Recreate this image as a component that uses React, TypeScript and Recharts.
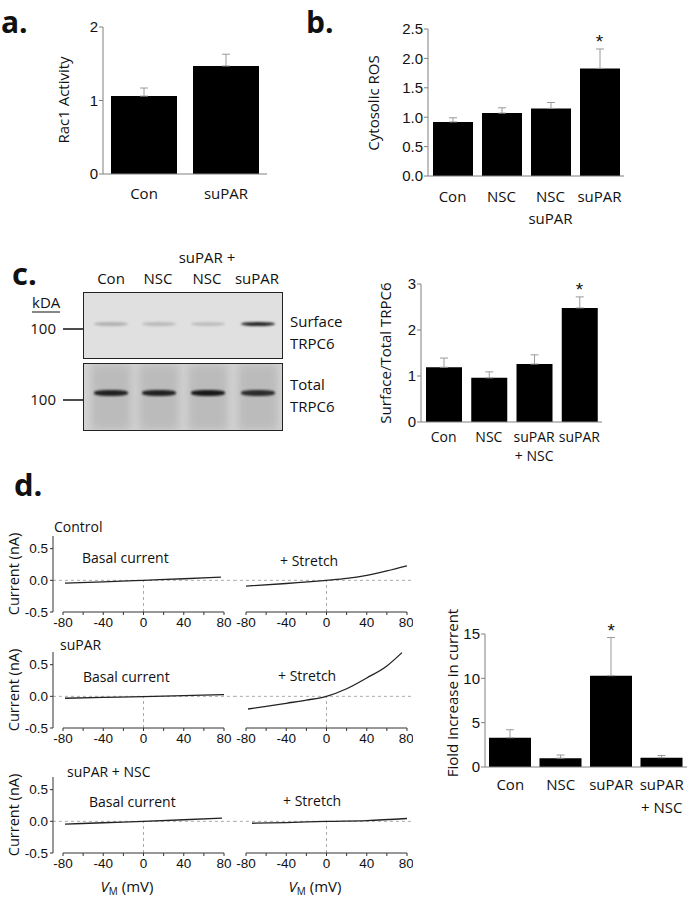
import React from 'react';
import {
  ComposedChart,
  LineChart,
  Bar,
  ErrorBar,
  Line,
  XAxis,
  YAxis,
  ReferenceLine,
} from 'recharts';

const FONT = '"Open Sans", sans-serif';
const NUM = '"Liberation Sans", Arial, sans-serif';

// a. Rac1 activity
const racCats = ['Con', 'suPAR'];
const racMean = [1.06, 1.47];
const racSem = [0.11, 0.16];
const racSig = [false, false];

// b. cytosolic ROS
const rosCats = ['Con', 'NSC', 'NSC\nsuPAR', 'suPAR'];
const rosMean = [0.92, 1.07, 1.15, 1.83];
const rosSem = [0.07, 0.09, 0.1, 0.33];
const rosSig = [false, false, false, true];

// c. surface / total TRPC6
const trpcCats = ['Con', 'NSC', 'suPAR\n+ NSC', 'suPAR'];
const trpcMean = [1.19, 0.96, 1.26, 2.48];
const trpcSem = [0.2, 0.13, 0.2, 0.24];
const trpcSig = [false, false, false, true];

// c. blot band strength per lane
const blotLabels = ['Con', 'NSC', 'suPAR +\nNSC', 'suPAR'];
const surfaceBand = [0.22, 0.18, 0.16, 0.9];
const totalBand = [0.88, 0.88, 0.92, 0.82];

// d. fold increase in current
const foldCats = ['Con', 'NSC', 'suPAR', 'suPAR\n+ NSC'];
const foldMean = [3.3, 1.0, 10.3, 1.05];
const foldSem = [0.9, 0.35, 4.3, 0.25];
const foldSig = [false, false, true, false];

// d. I-V traces (mV, nA)
const ctrlBasalV = [-78, -40, 0, 40, 77];
const ctrlBasalI = [-0.045, -0.025, 0, 0.025, 0.05];
const ctrlStretchV = [-80, -40, 0, 20, 40, 60, 80];
const ctrlStretchI = [-0.09, -0.05, 0, 0.03, 0.08, 0.15, 0.23];
const suparBasalV = [-78, -40, 0, 40, 84];
const suparBasalI = [-0.03, -0.018, -0.005, 0.012, 0.03];
const suparStretchV = [-78, -60, -40, -20, 0, 20, 40, 60, 75];
const suparStretchI = [-0.2, -0.16, -0.11, -0.06, 0, 0.12, 0.29, 0.48, 0.69];
const nscBasalV = [-78, -40, 0, 40, 78];
const nscBasalI = [-0.045, -0.022, 0, 0.025, 0.05];
const nscStretchV = [-74, -40, 0, 40, 80];
const nscStretchI = [-0.03, -0.02, 0, 0.012, 0.045];

const ivXTicks = [-80, -60, -40, -20, 0, 20, 40, 60, 80];
const ivYTicks = [-0.5, 0, 0.5];

const pairs = (v: number[], i: number[]) => v.map((x, k) => ({ v: x, i: i[k] }));

const buildBars = (cats: string[], mean: number[], sem: number[], sig: boolean[]) =>
  cats.map((c, k) => ({
    cat: c,
    val: mean[k],
    err: [0, sem[k]],
    top: mean[k] + sem[k],
    sig: sig[k],
  }));

const CatTick = ({ x, y, payload, dy, lh, fs }: any) => {
  const lines = String(payload.value).split('\n');
  return (
    <text x={x} y={y + dy} textAnchor="middle" fontFamily={FONT} fontSize={fs} fill="#111">
      {lines.map((l, i) => (
        <tspan key={i} x={x} dy={i ? lh : 0}>
          {l}
        </tspan>
      ))}
    </text>
  );
};

const Star = (props: any) => {
  const { cx, cy, payload, index } = props;
  if (!payload?.sig) return <g key={index} />;
  return (
    <text key={index} x={cx} y={cy - 1} textAnchor="middle" fontFamily={NUM} fontSize={19} fill="#111">
      *
    </text>
  );
};

interface BarPanelProps {
  left: number;
  top: number;
  yWidth: number;
  plotW: number;
  plotH: number;
  right: number;
  xh: number;
  data: any[];
  domain: [number, number];
  ticks: number[];
  fmt: (v: number) => string;
  barSize: number;
  dy: number;
  lh: number;
  fs?: number;
}

function BarPanel(p: BarPanelProps) {
  const mt = 20;
  const width = p.yWidth + p.plotW + p.right;
  const height = mt + p.plotH + p.xh;
  return (
    <div style={{ position: 'absolute', left: p.left, top: p.top - mt }}>
      <ComposedChart
        width={width}
        height={height}
        data={p.data}
        margin={{ top: mt, right: p.right, bottom: 0, left: 0 }}
      >
        <XAxis
          dataKey="cat"
          height={p.xh}
          tickSize={0}
          tickMargin={0}
          tickLine={false}
          axisLine={{ stroke: '#808080' }}
          interval={0}
          tick={<CatTick dy={p.dy} lh={p.lh} fs={p.fs ?? 15} />}
        />
        <YAxis
          width={p.yWidth}
          domain={p.domain}
          ticks={p.ticks}
          tickFormatter={p.fmt}
          tickSize={4}
          tickMargin={1}
          axisLine={{ stroke: '#808080' }}
          tickLine={{ stroke: '#808080' }}
          tick={{ fontFamily: NUM, fontSize: 15, fill: '#111' }}
        />
        <Bar dataKey="val" fill="#000" barSize={p.barSize} isAnimationActive={false}>
          <ErrorBar dataKey="err" width={4} stroke="#9a9a9a" strokeWidth={1} direction="y" />
        </Bar>
        <Line dataKey="top" stroke="none" dot={Star} activeDot={false} isAnimationActive={false} />
      </ComposedChart>
    </div>
  );
}

interface IVProps {
  left: number;
  top: number;
  showY: boolean;
  trace: { v: number; i: number }[];
  zeroFrom: number;
  zeroTo: number;
}

function IVPlot({ left, top, showY, trace, zeroFrom, zeroTo }: IVProps) {
  const yWidth = showY ? 40 : 0;
  const padLeft = showY ? 10 : 12;
  const right = showY ? 10 : 6;
  const width = yWidth + padLeft + 161 + right;
  return (
    <div style={{ position: 'absolute', left, top: top - 8 }}>
      <LineChart width={width} height={109} margin={{ top: 8, right, bottom: 0, left: 0 }}>
        <XAxis
          type="number"
          dataKey="v"
          domain={[-80, 80]}
          ticks={ivXTicks}
          allowDataOverflow
          padding={{ left: padLeft, right: 0 }}
          height={25}
          axisLine={false}
          tickSize={3}
          tickMargin={2}
          tickLine={{ stroke: '#333' }}
          tickFormatter={(v: number) => (v % 40 === 0 ? String(v) : '')}
          tick={{ fontFamily: NUM, fontSize: 13.5, fill: '#111' }}
        />
        <YAxis
          type="number"
          domain={[-0.5, 0.7]}
          ticks={ivYTicks}
          allowDataOverflow
          hide={!showY}
          width={yWidth}
          tickSize={3}
          tickMargin={2}
          axisLine={{ stroke: '#333' }}
          tickLine={{ stroke: '#333' }}
          tickFormatter={(v: number) => v.toFixed(1)}
          tick={{ fontFamily: NUM, fontSize: 13.5, fill: '#111' }}
        />
        <ReferenceLine
          segment={[{ x: zeroFrom, y: 0 }, { x: zeroTo, y: 0 }]}
          stroke="#aaa"
          strokeDasharray="3 3"
          ifOverflow="visible"
        />
        <ReferenceLine
          segment={[{ x: 0, y: -0.5 }, { x: 0, y: 0 }]}
          stroke="#aaa"
          strokeDasharray="3 3"
          ifOverflow="visible"
        />
        <ReferenceLine
          segment={[{ x: -80, y: -0.5 }, { x: 80, y: -0.5 }]}
          stroke="#333"
          ifOverflow="visible"
        />
        <Line
          data={trace}
          dataKey="i"
          type="monotone"
          stroke="#222"
          strokeWidth={1.3}
          dot={false}
          activeDot={false}
          isAnimationActive={false}
        />
      </LineChart>
    </div>
  );
}

const T = ({ x, y, s = 15, a = 'start', w = 400, children, rot }: any) => (
  <text
    x={x}
    y={y}
    fontFamily={FONT}
    fontSize={s}
    fontWeight={w}
    textAnchor={a}
    fill="#111"
    transform={rot ? `rotate(-90 ${x} ${y})` : undefined}
    dominantBaseline={rot ? 'central' : undefined}
  >
    {children}
  </text>
);

const laneX = [110, 158, 207, 257];

function Blot() {
  return (
    <>
      <div
        style={{
          position: 'absolute',
          left: 83,
          top: 292,
          width: 198,
          height: 65,
          border: '1px solid #222',
          background: '#e0e0e0',
          overflow: 'hidden',
        }}
      >
        {surfaceBand.map((op, k) => (
          <div
            key={k}
            style={{
              position: 'absolute',
              left: laneX[k] - 83 - 17,
              top: 29,
              width: 34,
              height: 4,
              borderRadius: '50%',
              background: `rgba(15,15,15,${op})`,
              filter: 'blur(1px)',
            }}
          />
        ))}
      </div>
      <div
        style={{
          position: 'absolute',
          left: 83,
          top: 363,
          width: 198,
          height: 66,
          border: '1px solid #222',
          background: '#d4d4d4',
          overflow: 'hidden',
        }}
      >
        {totalBand.map((op, k) => (
          <React.Fragment key={k}>
            <div
              style={{
                position: 'absolute',
                left: laneX[k] - 83 - 20,
                top: 0,
                width: 40,
                height: 66,
                background: 'rgba(90,90,90,0.2)',
                filter: 'blur(4px)',
              }}
            />
            <div
              style={{
                position: 'absolute',
                left: laneX[k] - 83 - 17,
                top: 26,
                width: 34,
                height: 6,
                borderRadius: '40%',
                background: `rgba(10,10,10,${op})`,
                filter: 'blur(1px)',
              }}
            />
          </React.Fragment>
        ))}
      </div>
    </>
  );
}

export default function App() {
  return (
    <div style={{ position: 'absolute', left: 0, top: 0, width: 696, height: 900, background: '#fff' }}>
      <BarPanel
        left={63}
        top={27}
        yWidth={40}
        plotW={164}
        plotH={147}
        right={10}
        xh={40}
        data={buildBars(racCats, racMean, racSem, racSig)}
        domain={[0, 2]}
        ticks={[0, 1, 2]}
        fmt={(v) => String(v)}
        barSize={66}
        dy={24.5}
        lh={0}
      />
      <BarPanel
        left={383}
        top={29}
        yWidth={45}
        plotW={196}
        plotH={147}
        right={10}
        xh={58}
        data={buildBars(rosCats, rosMean, rosSem, rosSig)}
        domain={[0, 2.5]}
        ticks={[0, 0.5, 1, 1.5, 2, 2.5]}
        fmt={(v) => v.toFixed(1)}
        barSize={40}
        dy={26}
        lh={22}
      />
      <BarPanel
        left={386}
        top={284}
        yWidth={35}
        plotW={181}
        plotH={138}
        right={10}
        xh={48}
        data={buildBars(trpcCats, trpcMean, trpcSem, trpcSig)}
        domain={[0, 3]}
        ticks={[0, 1, 2, 3]}
        fmt={(v) => String(v)}
        barSize={36}
        dy={20}
        lh={19}
        fs={14}
      />
      <BarPanel
        left={445}
        top={634}
        yWidth={40}
        plotW={202}
        plotH={133}
        right={8}
        xh={56}
        data={buildBars(foldCats, foldMean, foldSem, foldSig)}
        domain={[0, 15]}
        ticks={[0, 5, 10, 15]}
        fmt={(v) => String(v)}
        barSize={42}
        dy={23}
        lh={23}
      />

      <Blot />

      <IVPlot left={13} top={536} showY trace={pairs(ctrlBasalV, ctrlBasalI)} zeroFrom={-90} zeroTo={90} />
      <IVPlot left={234} top={536} showY={false} trace={pairs(ctrlStretchV, ctrlStretchI)} zeroFrom={-92} zeroTo={86} />
      <IVPlot left={13} top={652} showY trace={pairs(suparBasalV, suparBasalI)} zeroFrom={-90} zeroTo={90} />
      <IVPlot left={234} top={652} showY={false} trace={pairs(suparStretchV, suparStretchI)} zeroFrom={-92} zeroTo={86} />
      <IVPlot left={13} top={777} showY trace={pairs(nscBasalV, nscBasalI)} zeroFrom={-90} zeroTo={90} />
      <IVPlot left={234} top={777} showY={false} trace={pairs(nscStretchV, nscStretchI)} zeroFrom={-92} zeroTo={86} />

      <svg width={696} height={900} style={{ position: 'absolute', left: 0, top: 0, pointerEvents: 'none' }}>
        <T x={1} y={33} s={30} w={700}>a.</T>
        <T x={306} y={33} s={30} w={700}>b.</T>
        <T x={12} y={285} s={31} w={700}>c.</T>
        <T x={14} y={496} s={31} w={700}>d.</T>

        <T x={63} y={100} a="middle" rot>Rac1 Activity</T>
        <T x={373} y={103} a="middle" rot>Cytosolic ROS</T>
        <T x={385} y={353} a="middle" rot>Surface/Total TRPC6</T>
        <T x={452} y={693} a="middle" rot>Fiold increase in current</T>

        {blotLabels.map((l, k) => {
          const lines = l.split('\n');
          return lines.map((ln, j) => (
            <T key={`${k}-${j}`} x={laneX[k] + (k === 0 ? 1 : 0)} y={284 - (lines.length - 1 - j) * 21} a="middle">
              {ln}
            </T>
          ));
        })}
        <T x={32} y={308}>kDA</T>
        <line x1={32} x2={60} y1={312} y2={312} stroke="#111" strokeWidth={1} />
        <T x={56} y={334} a="end">100</T>
        <line x1={63} x2={83} y1={329} y2={329} stroke="#111" strokeWidth={1.5} />
        <T x={56} y={405} a="end">100</T>
        <line x1={63} x2={83} y1={400} y2={400} stroke="#111" strokeWidth={1.5} />
        <T x={290} y={327}>Surface</T>
        <T x={290} y={349}>TRPC6</T>
        <T x={290} y={390}>Total</T>
        <T x={290} y={412}>TRPC6</T>

        <T x={13} y={574} s={14.5} a="middle" rot>Current (nA)</T>
        <T x={13} y={690} s={14.5} a="middle" rot>Current (nA)</T>
        <T x={13} y={815} s={14.5} a="middle" rot>Current (nA)</T>

        <T x={54} y={532} s={14}>Control</T>
        <T x={60} y={650} s={14}>suPAR</T>
        <T x={67} y={777} s={14}>suPAR + NSC</T>

        <T x={82} y={563} s={14}>Basal current</T>
        <T x={280} y={566} s={14}>+ Stretch</T>
        <T x={83} y={682} s={14}>Basal current</T>
        <T x={278} y={681} s={14}>+ Stretch</T>
        <T x={89} y={807} s={14}>Basal current</T>
        <T x={283} y={806} s={14}>+ Stretch</T>

        {[127, 315].map((cx) => (
          <text key={cx} x={cx} y={892} textAnchor="middle" fontFamily={FONT} fontSize={15} fill="#111">
            <tspan fontStyle="italic">V</tspan>
            <tspan fontSize={10} dy={3}>M</tspan>
            <tspan dy={-3}> (mV)</tspan>
          </text>
        ))}
      </svg>
    </div>
  );
}
